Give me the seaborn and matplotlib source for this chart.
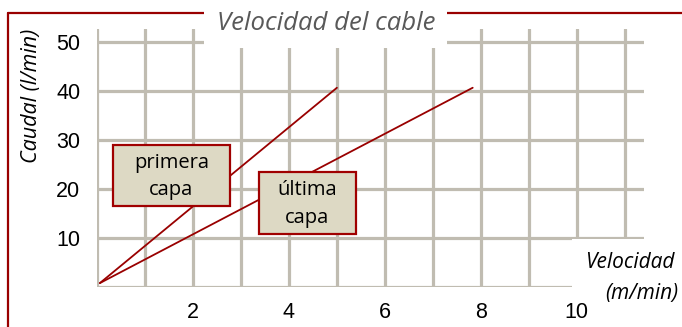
import matplotlib
matplotlib.use("Agg")
import matplotlib.pyplot as plt
from matplotlib.patches import Rectangle
from matplotlib.lines import Line2D
import pandas as pd
import seaborn as sns

# datos
capas = ["primera capa", "primera capa", "última capa", "última capa"]
velocidad = [0.06, 5.0, 0.06, 7.83]
caudal = [0.8, 40.7, 0.8, 40.7]
x_ticks = list(range(12))
x_labels = ["", "", "2", "", "4", "", "6", "", "8", "", "10", ""]
y_ticks = [0, 10, 20, 30, 40, 50]
y_labels = ["", "10", "20", "30", "40", "50"]

df = pd.DataFrame({"capa": capas, "velocidad": velocidad, "caudal": caudal})

sns.set_theme(style="white")
plt.rcParams["font.family"] = ["Liberation Sans", "DejaVu Sans"]
plt.rcParams["text.color"] = "black"

ROJO = "#990000"
GRIS = "#c0bcb1"
SANS = ["Open Sans", "DejaVu Sans"]

fig = plt.figure(figsize=(6.82, 3.27), dpi=100)
ax = fig.add_axes([97 / 682, 1 - 287 / 327, 547 / 682, 258 / 327])

sns.lineplot(data=df, x="velocidad", y="caudal", hue="capa",
             palette=[ROJO, ROJO], estimator=None, legend=False,
             linewidth=1.3, ax=ax, zorder=3)

ax.set_xlim(0, 11.4)
ax.set_ylim(0, 52.7)
ax.set_xticks(x_ticks)
ax.set_xticklabels(x_labels)
ax.set_yticks(y_ticks)
ax.set_yticklabels(y_labels)
ax.tick_params(axis="both", length=0, labelsize=15.5, colors="black")
ax.tick_params(axis="x", pad=11)
ax.tick_params(axis="y", pad=12)
ax.grid(True, color=GRIS, linewidth=2.3, zorder=0)
ax.set_axisbelow(True)
for s in ax.spines.values():
    s.set_visible(False)
ax.set_xlabel("")
ax.set_ylabel("")

# cajas de texto
caja_kw = dict(facecolor="#ddd9c4", edgecolor="#a00000", linewidth=1.6, zorder=5)
ax.add_patch(Rectangle((0.33, 16.5), 2.44, 12.5, **caja_kw))
ax.add_patch(Rectangle((3.375, 10.8), 2.03, 12.7, **caja_kw))
ax.text(1.55, 22.6, "primera\ncapa", ha="center", va="center", fontsize=14.5,
        family=SANS, color="black", linespacing=1.5, zorder=6)
ax.text(4.385, 17.0, "última\ncapa", ha="center", va="center", fontsize=14.5,
        family=SANS, color="black", linespacing=1.5, zorder=6)

# fondo blanco detras de la etiqueta del eje x
ax.add_patch(Rectangle((0.868, -0.05), 0.14, 0.236, transform=ax.transAxes,
                       facecolor="white", edgecolor="none", zorder=4, clip_on=False))

# marco rojo y titulo
fig.add_artist(Line2D([8 / 682, 204 / 682], [1 - 13 / 327] * 2, color=ROJO, lw=1.6))
fig.add_artist(Line2D([447 / 682, 1.0], [1 - 13 / 327] * 2, color=ROJO, lw=1.6))
fig.add_artist(Line2D([8 / 682] * 2, [1 - 13 / 327, 0], color=ROJO, lw=1.6))
fig.add_artist(Rectangle((204 / 682, 1 - 48 / 327), 243 / 682, 48 / 327,
                         transform=fig.transFigure, facecolor="white",
                         edgecolor="none", zorder=5))
fig.text(326 / 682, 1 - 24 / 327, "Velocidad del cable", ha="center", va="center",
         fontsize=18.5, style="italic", color="#595959", family=SANS, zorder=6)

fig.text(31 / 682, 1 - 96 / 327, "Caudal (l/min)", ha="center", va="center",
         rotation=90, fontsize=15.5, style="italic", color="black", family=SANS)
fig.text(674 / 682, 1 - 263 / 327, "Velocidad", ha="right", va="center",
         fontsize=15, style="italic", color="black", family=SANS, zorder=6)
fig.text(678 / 682, 1 - 293 / 327, "(m/min)", ha="right", va="center",
         fontsize=15, style="italic", color="black", family=SANS, zorder=6)

fig.savefig("out.png", dpi=100)
